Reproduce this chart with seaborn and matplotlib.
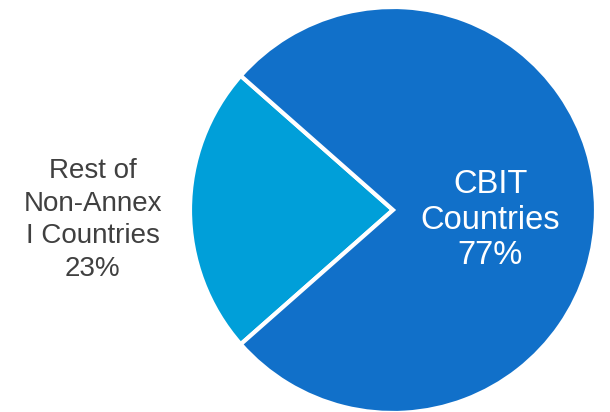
import numpy as np
import seaborn as sns
import matplotlib.pyplot as plt

labels = ["Rest of\nNon-Annex\nI Countries", "CBIT\nCountries"]
shares = [23, 77]
colors = ["#009FD9", "#1170C9"]
text_colors = ["#404040", "white"]

sns.set_theme(style="white")
plt.rcParams['font.family'] = ['Liberation Sans', 'DejaVu Sans']

W, H = 610, 412
fig = plt.figure(figsize=(W / 100, H / 100), dpi=100)

# pie centre and radius in pixels
cx, cy, r = 393, 210, 203
ax = fig.add_axes([(cx - r) / W, (H - cy - r) / H, 2 * r / W, 2 * r / H])

start = 180 - shares[0] / 100 * 360 / 2
wedges, _ = ax.pie(shares, colors=colors, startangle=start, counterclock=True,
                   wedgeprops=dict(edgecolor="white", linewidth=3))
for w in wedges:
    w.set_clip_on(False)
ax.set_xlim(-1, 1)
ax.set_ylim(-1, 1)
ax.set_aspect("equal")
ax.axis("off")

# label positions: distance from centre along mid angle, size, spacing
dists = [1.48, 0.48]
sizes = [20, 23.5]
spacing = [1.33, 1.2]
for lab, val, tc, d, fs, ls, w in zip(labels, shares, text_colors, dists, sizes, spacing, wedges):
    mid = np.deg2rad((w.theta1 + w.theta2) / 2)
    ax.text(d * np.cos(mid), d * np.sin(mid) - 0.05, f"{lab}\n{val}%",
            ha="center", va="center", color=tc, fontsize=fs, linespacing=ls)

fig.savefig("out.png", dpi=100)
